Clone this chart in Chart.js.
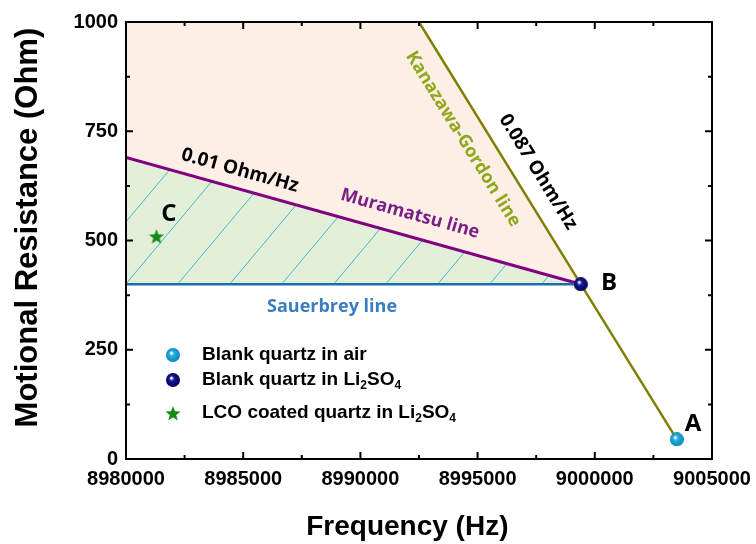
<!DOCTYPE html>
<html>
<head>
<meta charset="utf-8">
<script src="https://cdn.jsdelivr.net/npm/chart.js@4.4.1/dist/chart.umd.min.js"></script>
<style>
  body { margin: 0; background: #fff; }
  #wrap { width: 756px; height: 544px; }
</style>
</head>
<body>
<div id="wrap"><canvas id="qcm"></canvas></div>
<script>
// frequency (Hz) vs motional resistance (Ohm)
const xTicks = [8980000, 8985000, 8990000, 8995000, 9000000, 9005000];
const yTicks = [0, 250, 500, 750, 1000];

const pointLabels = ['Blank quartz in air', 'Blank quartz in Li2SO4', 'LCO coated quartz in Li2SO4'];
const pointFreq = [9003500, 8999400, 8981300];
const pointRes = [45, 400, 510];

const sauerbreyFreq = [8980000, 8999400];
const sauerbreyRes = [400, 400];
const muramatsuFreq = [8980000, 8999400];
const muramatsuRes = [690, 400];
const kgFreq = [8992500, 8999400, 9003500];
const kgRes = [1000, 400, 45];
// upper edge of the pink zone (top of the plot, then the Kanazawa-Gordon line)
const zoneFreq = [8980000, 8992500, 8999400];
const zoneRes = [1000, 1000, 400];

function pairs(xs, ys) {
    return xs.map((x, i) => ({ x: x, y: ys[i] }));
}

// little shaded balls like the ones in the original figure
function sphere(color, dark, r) {
    const c = document.createElement('canvas');
    c.width = c.height = 2 * r;
    const g = c.getContext('2d');
    const grad = g.createRadialGradient(r * 0.75, r * 0.7, r * 0.08, r, r, r);
    grad.addColorStop(0, '#ffffff');
    grad.addColorStop(0.3, color);
    grad.addColorStop(1, dark);
    g.fillStyle = grad;
    g.beginPath();
    g.arc(r, r, r, 0, Math.PI * 2);
    g.fill();
    return c;
}

function star(color, R) {
    const c = document.createElement('canvas');
    c.width = c.height = 2 * R;
    const g = c.getContext('2d');
    g.fillStyle = color;
    g.beginPath();
    for (let i = 0; i < 10; i++) {
        const rr = i % 2 ? R * 0.42 : R;
        const a = -Math.PI / 2 + i * Math.PI / 5;
        g.lineTo(R + rr * Math.cos(a), R + 1 + rr * Math.sin(a));
    }
    g.closePath();
    g.fill();
    return c;
}

function hatch() {
    const c = document.createElement('canvas');
    c.width = 52;
    c.height = 62;
    const g = c.getContext('2d');
    g.fillStyle = '#e4efda';
    g.fillRect(0, 0, 52, 62);
    g.strokeStyle = '#45b8c4';
    g.lineWidth = 1;
    g.beginPath();
    g.moveTo(0, 62);
    g.lineTo(52, 0);
    g.stroke();
    return g.createPattern(c, 'repeat');
}

const markers = [
    sphere('#22b0e0', '#0a86b8', 7),
    sphere('#1a1a90', '#000060', 7),
    star('#138a13', 8)
];

const labelFont = '"Open Sans", sans-serif';
const notes = [
    { text: '0.01 Ohm/Hz', x: 8984860, y: 660, color: '#000', size: 19, along: 'mur' },
    { text: 'Muramatsu line', x: 8992116, y: 561, color: '#7a1f88', size: 18, along: 'mur' },
    { text: 'Kanazawa-Gordon line', x: 8994377, y: 732, color: '#8fa81c', size: 18, along: 'kg' },
    { text: '0.087 Ohm/Hz', x: 8997577, y: 657, color: '#000', size: 19, along: 'kg' },
    { text: 'Sauerbrey line', x: 8988790, y: 348, color: '#3a7dc0', size: 18, along: null },
    { text: 'A', x: 9004190, y: 80, color: '#000', size: 24, along: null },
    { text: 'B', x: 9000606, y: 403, color: '#000', size: 24, along: null },
    { text: 'C', x: 8981834, y: 561, color: '#000', size: 24, along: null }
];

// draws "Li2SO4" with the digits as subscripts
function subText(ctx, text, x, y, size) {
    let cx = x;
    for (let i = 0; i < text.length; i++) {
        const ch = text[i];
        const sub = /\d/.test(ch) && i > 0 && /[A-Za-z]/.test(text[i - 1]);
        ctx.font = 'bold ' + (sub ? Math.round(size * 0.65) : size) + 'px "Liberation Sans", Arial, sans-serif';
        ctx.fillText(ch, cx, sub ? y + 6 : y);
        cx += ctx.measureText(ch).width;
    }
}

const decorations = {
    id: 'decorations',
    afterDatasetsDraw(chart) {
        const { ctx, chartArea: a, scales: { x, y } } = chart;
        ctx.save();
        ctx.strokeStyle = '#000';
        ctx.lineWidth = 2;

        // inward tick marks on all four sides, minor ones halfway
        ctx.beginPath();
        xTicks.forEach((v, i) => {
            const marks = [[v, 7]];
            if (i > 0) marks.push([(v + xTicks[i - 1]) / 2, 4]);
            marks.forEach(([val, len]) => {
                const px = x.getPixelForValue(val);
                ctx.moveTo(px, a.bottom); ctx.lineTo(px, a.bottom - len);
                ctx.moveTo(px, a.top); ctx.lineTo(px, a.top + len);
            });
        });
        yTicks.forEach((v, i) => {
            const marks = [[v, 7]];
            if (i > 0) marks.push([(v + yTicks[i - 1]) / 2, 4]);
            marks.forEach(([val, len]) => {
                const py = y.getPixelForValue(val);
                ctx.moveTo(a.left, py); ctx.lineTo(a.left + len, py);
                ctx.moveTo(a.right, py); ctx.lineTo(a.right - len, py);
            });
        });
        ctx.stroke();
        ctx.strokeRect(a.left, a.top, a.right - a.left, a.bottom - a.top);

        // line names and slopes
        const slope = {
            mur: Math.atan2(y.getPixelForValue(muramatsuRes[1]) - y.getPixelForValue(muramatsuRes[0]),
                x.getPixelForValue(muramatsuFreq[1]) - x.getPixelForValue(muramatsuFreq[0])),
            kg: Math.atan2(y.getPixelForValue(kgRes[2]) - y.getPixelForValue(kgRes[0]),
                x.getPixelForValue(kgFreq[2]) - x.getPixelForValue(kgFreq[0]))
        };
        ctx.textAlign = 'center';
        ctx.textBaseline = 'middle';
        notes.forEach(n => {
            ctx.save();
            ctx.translate(x.getPixelForValue(n.x), y.getPixelForValue(n.y));
            if (n.along) ctx.rotate(slope[n.along]);
            ctx.fillStyle = n.color;
            ctx.font = 'bold ' + n.size + 'px ' + labelFont;
            ctx.fillText(n.text, 0, 0);
            ctx.restore();
        });

        // legend in the lower left corner
        const rows = [a.bottom - 104, a.bottom - 79, a.bottom - 46];
        ctx.textAlign = 'left';
        ctx.fillStyle = '#000';
        pointLabels.forEach((lab, i) => {
            const img = markers[i];
            ctx.drawImage(img, a.left + 47 - img.width / 2, rows[i] - img.height / 2);
            subText(ctx, lab, a.left + 76, rows[i], 19);
        });
        ctx.restore();
    }
};

const tickFont = { family: '"Liberation Sans", Arial, sans-serif', weight: 'bold' };

new Chart(document.getElementById('qcm'), {
    type: 'scatter',
    data: {
        datasets: [
            {
                label: 'Sauerbrey line',
                data: pairs(sauerbreyFreq, sauerbreyRes),
                showLine: true, borderColor: '#1c6fae', borderWidth: 2.5,
                pointRadius: 0, order: 2
            },
            {
                label: 'Muramatsu line',
                data: pairs(muramatsuFreq, muramatsuRes),
                showLine: true, borderColor: '#800080', borderWidth: 3,
                pointRadius: 0, order: 3,
                fill: { target: 0 }, backgroundColor: hatch()
            },
            {
                label: 'zone',
                data: pairs(zoneFreq, zoneRes),
                showLine: true, borderWidth: 0, borderColor: 'rgba(0,0,0,0)',
                pointRadius: 0, order: 5,
                fill: { target: 1 }, backgroundColor: '#fdeee6'
            },
            {
                label: 'Kanazawa-Gordon line',
                data: pairs(kgFreq, kgRes),
                showLine: true, borderColor: '#808000', borderWidth: 2.5,
                pointRadius: 0, order: 1
            },
            ...pointLabels.map((lab, i) => ({
                label: lab,
                data: [{ x: pointFreq[i], y: pointRes[i] }],
                pointStyle: markers[i], pointRadius: 7, order: 0
            }))
        ]
    },
    options: {
        responsive: true,
        maintainAspectRatio: false,
        animation: false,
        layout: { padding: { top: 22, right: 44, left: 0, bottom: 0 } },
        plugins: { legend: { display: false }, tooltip: { enabled: false } },
        scales: {
            x: {
                type: 'linear', min: 8980000, max: 9005000,
                afterBuildTicks: s => { s.ticks = xTicks.map(v => ({ value: v })); },
                ticks: { callback: v => String(v), color: '#000', padding: 8, maxRotation: 0, autoSkip: false,
                    font: Object.assign({ size: 20 }, tickFont) },
                grid: { display: false, drawTicks: false },
                border: { display: false },
                // trailing spaces nudge the title left, as in the original
                title: { display: true, text: 'Frequency (Hz)   ', color: '#000', padding: { top: 0, bottom: 0 },
                    font: Object.assign({ size: 28 }, tickFont) },
                afterFit: s => { s.height = 85; s.paddingLeft = 0; s.paddingRight = 0; }
            },
            y: {
                type: 'linear', min: 0, max: 1000,
                afterBuildTicks: s => { s.ticks = yTicks.map(v => ({ value: v })); },
                ticks: { callback: v => String(v), color: '#000', padding: 8,
                    font: Object.assign({ size: 20 }, tickFont) },
                grid: { display: false, drawTicks: false },
                border: { display: false },
                title: { display: true, text: '   Motional Resistance (Ohm)', color: '#000', padding: { top: 10, bottom: 0 },
                    font: Object.assign({ size: 31 }, tickFont) },
                afterFit: s => { s.width = 126; s.paddingTop = 0; s.paddingBottom = 0; }
            }
        }
    },
    plugins: [decorations]
});
</script>
</body>
</html>
